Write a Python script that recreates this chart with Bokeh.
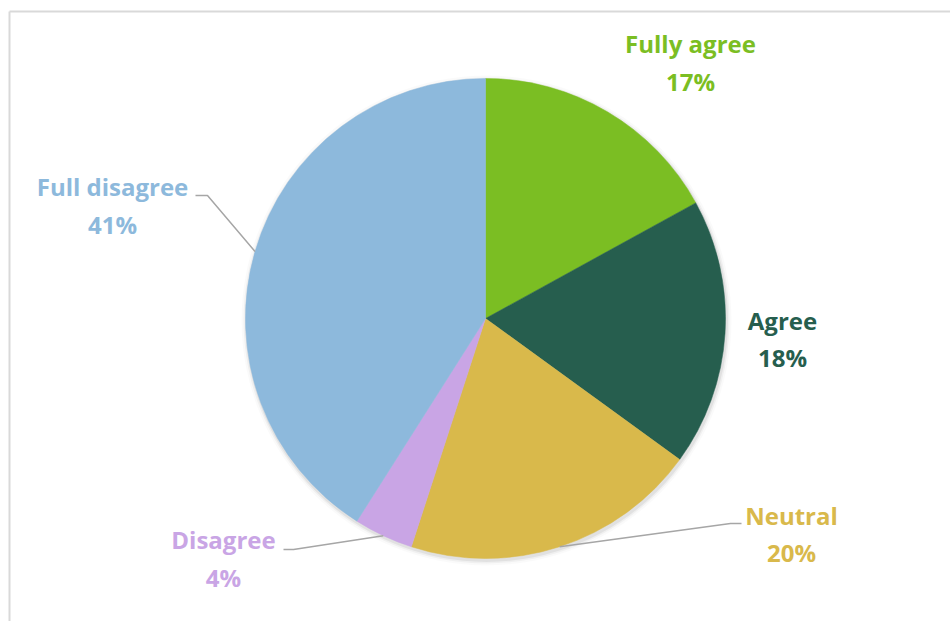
import numpy as np
from bokeh.plotting import figure
from bokeh.models import Range1d, ColumnDataSource
from bokeh.core.properties import value
from bokeh.embed import file_html
from bokeh.resources import INLINE

# ---- data ----
categories = ["Fully agree", "Agree", "Neutral", "Disagree", "Full disagree"]
percents = [17, 18, 20, 4, 41]
colors = ["#7BBE23", "#265E4E", "#D9B94B", "#C9A5E5", "#8DB9DC"]

# ---- layout (pixel space, y measured from top) ----
W, H = 950, 621
CX, CY, R = 485, 318, 240
label_pos = {  # center x, name y, pct y
    "Fully agree": (690, 43, 81),
    "Agree": (782, 320, 357),
    "Neutral": (791, 515, 552),
    "Disagree": (223, 539, 577),
    "Full disagree": (112, 186, 224),
}
leader_elbows = {  # (label-side end, elbow)
    "Full disagree": ((195, 195), (207, 195)),
    "Disagree": ((283, 549), (293, 549)),
    "Neutral": ((741, 523), (730, 523)),
}

def Y(yp):
    return H - yp

p = figure(width=W, height=H, output_backend="svg", toolbar_location=None,
           x_range=Range1d(0, W), y_range=Range1d(0, H), min_border=0)
p.axis.visible = False
p.grid.visible = False
p.outline_line_color = None
p.background_fill_color = "white"
p.border_fill_color = "white"

# frame lines
p.line([9, W], [Y(11), Y(11)], line_color="#d9d9d9", line_width=2)
p.line([9, 9], [Y(11), 0], line_color="#d9d9d9", line_width=2)

# soft shadow
for dr, a in [(5, 0.02), (3, 0.04), (1.5, 0.06)]:
    p.scatter([CX + 1], [Y(CY) - 2], size=2 * (R + dr), marker="circle",
              fill_color="black", fill_alpha=a, line_color=None)

# wedges
cum = np.cumsum([0] + percents)
start = [np.deg2rad(90 - c * 3.6) for c in cum[:-1]]
end = [np.deg2rad(90 - c * 3.6) for c in cum[1:]]
src = ColumnDataSource(dict(x=[CX] * len(percents), y=[Y(CY)] * len(percents),
                            start=start, end=end, color=colors))
p.wedge(x="x", y="y", radius=R, start_angle="start", end_angle="end",
        direction="clock", fill_color="color", line_color="color", line_width=0.5,
        source=src)

# leader lines
for i, cat in enumerate(categories):
    if cat in leader_elbows:
        mid = 0.5 * (start[i] + end[i])
        ex, ey = CX + R * np.cos(mid), Y(CY) + R * np.sin(mid)
        (lx, ly), (bx, by) = leader_elbows[cat]
        p.line([lx, bx, ex], [Y(ly), Y(by), ey], line_color="#a6a6a6", line_width=1.5)

# labels
for i, cat in enumerate(categories):
    x, ny, py = label_pos[cat]
    for txt, yy in [(cat, ny), (f"{percents[i]}%", py)]:
        p.text(x=[x], y=[Y(yy)], text=[txt], text_align="center",
               text_baseline="middle", text_color=colors[i],
               text_font=value("Open Sans"), text_font_style="bold",
               text_font_size="24px")

open("out.html", "w").write(file_html(p, INLINE))
